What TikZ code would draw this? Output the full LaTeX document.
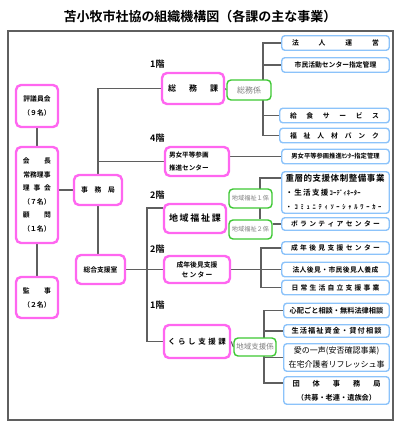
\documentclass[tikz,border=0pt]{standalone}
\usepackage{fontspec}
\setmainfont{Noto Sans CJK JP}[BoldFont={Noto Sans CJK JP Bold}]
\usetikzlibrary{backgrounds}
\definecolor{kyokupink}{RGB}{255,102,240}
\definecolor{kakarigreen}{RGB}{60,200,50}
\definecolor{jigyoblue}{RGB}{140,195,250}
\definecolor{sengray}{RGB}{95,95,95}
\newcommand{\Fs}[2]{\fontsize{#1}{#2}\selectfont}
\newcommand{\Spread}[2]% #1=width, #2=text with spaces between the characters
{\makebox[#1][s]{\spaceskip=0pt plus 1fil\relax #2}}
\tikzset{
  kyoku/.style={draw=kyokupink, line width=2.4pt, rounded corners=5pt, fill=white,
    font=\bfseries\Fs{6.8}{13.5}, align=center, inner sep=0pt},
  kakari/.style={draw=kakarigreen, line width=1.4pt, rounded corners=4pt, fill=white,
    text=gray, align=center, inner sep=0pt},
  jigyo/.style={draw=jigyoblue, line width=1.4pt, rounded corners=3pt, fill=white,
    font=\bfseries\Fs{6.8}{10}, align=center, inner sep=0pt,
    minimum width=107.5pt, minimum height=14.5pt},
  sen/.style={draw=sengray, line width=1.1pt},
  kai/.style={font=\bfseries\Fs{9}{9}, anchor=west, inner sep=0pt}
}

\begin{document}
\begin{tikzpicture}[x=1pt,y=-1pt]
  \useasboundingbox (0,0) rectangle (400,421);
  \node [font=\bfseries\Fs{13}{13}] (title) at (200,17) {苫小牧市社協の組織機構図（各課の主な事業）};
  \draw [sen] (8,31) rectangle (393,420);

  % left column
  \node [kyoku, minimum width=42pt, minimum height=42pt, font=\bfseries\Fs{6.8}{14}] (hyogi) at (37,106) {評議員会\\（９名）};
  \node [kyoku, minimum width=42pt, minimum height=96pt] (kaicho) at (37,195)
    {\Spread{28pt}{会 長}\\常務理事\\\Spread{28pt}{理 事 会}\\（７名）\\\Spread{28pt}{顧 問}\\（１名）};
  \node [kyoku, minimum width=42pt, minimum height=41pt, font=\bfseries\Fs{6.8}{14}] (kanji) at (37,297.5) {\Spread{28pt}{監 事}\\（２名）};
  \node [kyoku, minimum width=48pt, minimum height=30pt] (jimu) at (98,190) {\Spread{34pt}{事 務 局}};
  \node [kyoku, minimum width=49pt, minimum height=29pt] (sogo) at (100.5,269.5) {総合支援室};

  % sections
  \node [kai] (kai1) at (150,64) {1階};
  \node [kai] (kai4) at (150,138) {4階};
  \node [kai] (kai2a) at (150,195) {2階};
  \node [kai] (kai2b) at (150,249) {2階};
  \node [kai] (kai1b) at (150,305) {1階};
  \node [kyoku, minimum width=62pt, minimum height=31pt, font=\bfseries\Fs{8}{8}] (somu) at (193,88.5) {\Spread{50pt}{総 務 課}};
  \node [kyoku, minimum width=64pt, minimum height=29pt, text width=56pt, align=left, font=\bfseries\Fs{6.6}{12.5}] (danjo) at (197,161.5) {男女平等参画\\推進センター};
  \node [kyoku, minimum width=62pt, minimum height=29pt, font=\bfseries\Fs{9}{9}] (chiiki) at (195,218.5) {\Spread{52pt}{地 域 福 祉 課}};
  \node [kyoku, minimum width=66pt, minimum height=27pt, font=\bfseries\Fs{6.8}{10}] (koken) at (197,269.5) {成年後見支援\\\Spread{31pt}{セ ン タ ー}};
  \node [kyoku, minimum width=66pt, minimum height=33pt, font=\bfseries\Fs{7.5}{7.5}] (kurashi) at (197,341.5) {\Spread{58pt}{く ら し 支 援 課}};

  % kakari
  \node [kakari, minimum width=44pt, minimum height=20pt, font=\Fs{8}{8}] (somukakari) at (249,90) {総務係};
  \node [kakari, minimum width=43pt, minimum height=19pt, font=\Fs{6.2}{6.2}] (chiiki1) at (250.5,198.5) {地域福祉１係};
  \node [kakari, minimum width=43pt, minimum height=19pt, font=\Fs{6.2}{6.2}] (chiiki2) at (250.5,229.5) {地域福祉２係};
  \node [kakari, minimum width=42pt, minimum height=18pt, font=\Fs{7.5}{7.5}] (shienkakari) at (255,347) {地域支援係};

  % jigyo
  \node [jigyo] (hojin) at (335.5,43) {\Spread{87pt}{法 人 運 営}};
  \node [jigyo] (shimin) at (335.5,65) {市民活動センター指定管理};
  \node [jigyo, minimum width=109.5pt] (kyushoku) at (334.5,115.5) {\Spread{89pt}{給 食 サ ー ビ ス}};
  \node [jigyo, minimum width=109.5pt] (jinzai) at (334.5,135.5) {\Spread{89pt}{福 祉 人 材 バ ン ク}};
  \node [jigyo, font=\bfseries\Fs{6.3}{6.3}] (danjoshitei) at (335.5,156.5) {男女平等参画推進ｾﾝﾀｰ指定管理};
  \node [jigyo, minimum height=41.5pt, text width=100pt, align=left, font=\bfseries\Fs{6.5}{14}] (juso) at (335.5,192.5)
    {{\Fs{8.5}{8.5}\Spread{99pt}{重 層 的 支 援 体 制 整 備 事 業}}\\{\Fs{7.5}{7.5}\Spread{43pt}{・ 生 活 支 援}}\,\Spread{31pt}{ｺ ｰ ﾃ ﾞ ｨ ﾈ ｰ ﾀ ｰ}\\\Spread{96pt}{・ ｺ ﾐ ｭ ﾆ ﾃ ｨ ｿ ｰ ｼ ｬ ﾙ ﾜ ｰ ｶ ｰ}};
  \node [jigyo, minimum height=12.5pt] (volunteer) at (335.5,224) {\Spread{89pt}{ボ ラ ン テ ィ ア セ ン タ ー}};
  \node [jigyo, minimum height=12.5pt] (koken2) at (335.5,248) {\Spread{89pt}{成 年 後 見 支 援 セ ン タ ー}};
  \node [jigyo] (hojinkoken) at (335.5,269.5) {\Spread{86pt}{法 人 後 見 ・ 市 民 後 見 人 養 成}};
  \node [jigyo] (nichijo) at (335.5,287.5) {\Spread{88pt}{日 常 生 活 自 立 支 援 事 業}};
  \node [jigyo, minimum width=105.5pt, font=\bfseries\Fs{7.2}{7.2}] (shinpai) at (336.5,310.5) {心配ごと相談・無料法律相談};
  \node [jigyo, minimum width=105.5pt, minimum height=12.5pt, font=\bfseries\Fs{7.2}{7.2}] (fukushishikin) at (336.5,331) {\Spread{90pt}{生 活 福 祉 資 金 ・ 貸 付 相 談}};
  \node [jigyo, minimum width=105.5pt, minimum height=27.5pt, font=\Fs{8}{13.5}] (ainohitokoe) at (336.5,357.5) {愛の一声(安否確認事業)\\在宅介護者リフレッシュ事};
  \node [jigyo, minimum width=105.5pt, minimum height=27.5pt, font=\bfseries\Fs{7.2}{14}] (dantai) at (336.5,390.5) {\Spread{88pt}{団 体 事 務 局}\\（共募・老連・遺族会）};

  \begin{scope}[on background layer]
    \draw [sen] (hyogi.south) -- (kaicho.north);
    \draw [sen] (kaicho.south) -- (kanji.north);
    \draw [sen] (jimu.west -| kaicho.east) -- (jimu.west);
    \draw [sen] (jimu.north) |- (somu.west);
    \draw [sen] (jimu.north |- danjo.west) -- (danjo.west);
    \draw [sen] (jimu.south) -- (jimu.south |- sogo.north);
    \draw [sen] (sogo.east) -- (sogo.east -| koken.west);
    \coordinate (kadoB) at (147,208);
    \draw [sen] (kadoB -| chiiki.west) -- (kadoB) |- (kurashi.west);
    \draw [sen] (somu.east) -- (somukakari.west);
    \coordinate (kadoA) at (263,43);
    \draw [sen] (hojin.west) -| (kadoA |- jinzai.west) -- (jinzai.west);
    \draw [sen] (kadoA |- shimin.west) -- (shimin.west);
    \draw [sen] (kadoA |- kyushoku.west) -- (kyushoku.west);
    \draw [sen] (danjoshitei.west -| danjo.east) -- (danjoshitei.west);
    \coordinate (kadoC) at (260,178);
    \draw [sen] (kadoC -| juso.west) -- (kadoC) -- (kadoC |- chiiki2.north);
    \draw [sen] (volunteer.west -| chiiki2.east) -- (volunteer.west);
    \coordinate (kadoD) at (261,249);
    \draw [sen] (koken2.west) -| (kadoD |- nichijo.west) -- (nichijo.west);
    \draw [sen] (koken.east) -- (hojinkoken.west);
    \draw [sen] (kurashi.east) -- (shienkakari.west);
    \coordinate (kadoE) at (264,383);
    \draw [sen] (shinpai.west) -| (kadoE) -- (kadoE -| dantai.west);
    \draw [sen] (kadoE |- fukushishikin.west) -- (fukushishikin.west);
    \draw [sen] (kadoE |- ainohitokoe.west) -- (ainohitokoe.west);
  \end{scope}
\end{tikzpicture}
\end{document}
